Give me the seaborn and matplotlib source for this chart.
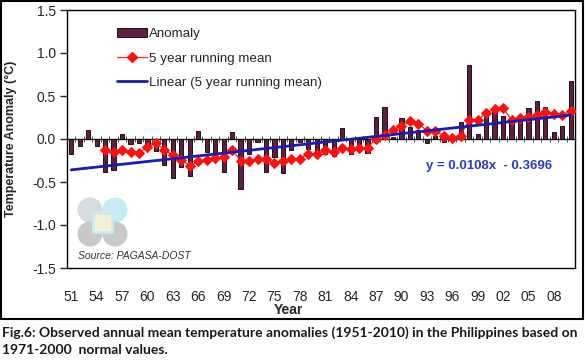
import numpy as np
import pandas as pd
import matplotlib
matplotlib.use('Agg')
import matplotlib.pyplot as plt
import seaborn as sns
from matplotlib.patches import Rectangle, Circle, Patch
from matplotlib.lines import Line2D
from matplotlib.ticker import FormatStrFormatter
from matplotlib.transforms import IdentityTransform

# annual anomalies 1951-2010 (deg C)
years = list(range(1951, 2011))
anomaly = [-0.18, -0.085, 0.10, -0.085, -0.38, -0.36, 0.06, -0.06, -0.05, -0.085,
           -0.14, -0.30, -0.45, -0.33, -0.43, 0.09, -0.15, -0.23, -0.38, 0.08,
           -0.58, -0.18, -0.04, -0.38, -0.21, -0.39, -0.13, -0.04, -0.12, -0.16,
           -0.17, -0.20, 0.13, -0.17, -0.12, -0.16, 0.26, 0.37, 0.02, 0.24,
           0.14, 0.10, -0.05, 0.03, -0.04, 0.05, 0.20, 0.86, 0.06, 0.30,
           0.32, 0.27, 0.19, 0.23, 0.36, 0.44, 0.37, 0.08, 0.15, 0.67]

# 5 year running mean (first four years empty)
running_mean = [np.nan, np.nan, np.nan, np.nan,
                -0.124, -0.155, -0.13, -0.155, -0.16, -0.093, -0.047, -0.124, -0.19, -0.24,
                -0.31, -0.26, -0.24, -0.22, -0.21, -0.124, -0.25, -0.26, -0.23, -0.23,
                -0.28, -0.25, -0.23, -0.23, -0.17, -0.17, -0.13, -0.155, -0.10, -0.116,
                -0.10, -0.10, 0.0, 0.05, 0.10, 0.155, 0.205, 0.18, 0.097, 0.09,
                0.04, 0.012, 0.04, 0.225, 0.225, 0.30, 0.35, 0.36, 0.225, 0.25,
                0.26, 0.28, 0.31, 0.295, 0.275, 0.33]

# linear trend of the running mean, as printed on the chart
slope = 0.0108
intercept = -0.3696

tick_years = years[::3]
tick_labels = [f"{y % 100:02d}" for y in tick_years]

df = pd.DataFrame({'year': years, 'anomaly': anomaly, 'mean5': running_mean})
df['pos'] = np.arange(len(df))
df['trend'] = slope * (df['pos'] + 1) + intercept

sns.set_style('white')
plt.rcParams['font.family'] = ['Liberation Sans', 'DejaVu Sans']
plt.rcParams['axes.unicode_minus'] = False

fig = plt.figure(figsize=(5.85, 3.61), dpi=100)
ax = fig.add_axes([67 / 585, 1 - 268 / 361, 508 / 585, 258 / 361])

bar_color = '#5e1f42'
sns.barplot(data=df, x='pos', y='anomaly', color=bar_color, saturation=1,
            width=0.5, edgecolor='black', linewidth=0.6, ax=ax, zorder=2)
sns.lineplot(data=df, x='pos', y='mean5', color='#d83030', linewidth=0.9,
             marker='D', markersize=5, markerfacecolor='#ff1010',
             markeredgecolor='#ff1010', ax=ax, zorder=3)
sns.lineplot(data=df, x='pos', y='trend', color='#1a1ab4', linewidth=2, ax=ax, zorder=4)

ax.set_xlim(-0.5, len(years) - 0.5)
ax.set_ylim(-1.5, 1.5)
ax.set_yticks([-1.5, -1.0, -0.5, 0.0, 0.5, 1.0, 1.5])
ax.yaxis.set_major_formatter(FormatStrFormatter('%.1f'))
ax.tick_params(axis='y', direction='out', length=5, width=1, labelsize=10, pad=3, left=True)
ax.set_xticks([years.index(y) for y in tick_years])
ax.set_xticklabels(tick_labels)
ax.tick_params(axis='x', length=0, labelsize=10, pad=16)
for s in ax.spines.values():
    s.set_color('black')
    s.set_linewidth(1)

# zero axis with tick marks between categories
zero_ax = ax.secondary_xaxis(0.5)
zero_ax.set_xticks(np.arange(-0.5, len(years), 1))
zero_ax.set_xticklabels([])
zero_ax.tick_params(direction='inout', length=5, width=0.6, color='#333333')
for side in ('top', 'bottom'):
    zero_ax.spines[side].set_color('#222222')
    zero_ax.spines[side].set_linewidth(1)

ax.set_xlabel('Year', fontsize=10, fontweight='bold')
ax.xaxis.set_label_coords(0.435, -0.135)
ax.set_ylabel('Temperature Anomaly (\u00b0C)', fontsize=9, fontweight='bold')
ax.yaxis.set_label_coords(-0.098, 0.5)

handles = [Patch(facecolor=bar_color, edgecolor='black', linewidth=0.6),
           Line2D([], [], color='#d83030', lw=0.9, marker='D', markersize=5,
                  markerfacecolor='#ff1010', markeredgecolor='#ff1010'),
           Line2D([], [], color='#1a1ab4', lw=2)]
ax.legend(handles, ['Anomaly', '5 year running mean', 'Linear (5 year running mean)'],
          loc='upper left', bbox_to_anchor=(0.098, 0.93), frameon=False,
          fontsize=9.6, borderpad=0, borderaxespad=0, handlelength=2.3,
          handletextpad=0.15, labelspacing=0.9)

ax.text(0.831, 0.395, 'y = 0.0108x  - 0.3696', transform=ax.transAxes,
        ha='center', va='center', fontsize=9.5, fontweight='bold', color='#2b3cc0')

# faint PAGASA logo and source note
H = 361
for (cx, cy, col) in [(90, 210, '#d6dde0'), (115, 210, '#c4ecf4'),
                      (90, 234, '#c9c9c9'), (115, 234, '#c9c9c9')]:
    ax.add_artist(Circle((cx, H - cy), 12.5, transform=IdentityTransform(),
                         facecolor=col, edgecolor='none', zorder=0.5))
ax.add_artist(Rectangle((93, H - 232), 19, 19, transform=IdentityTransform(),
                        facecolor='#f4f1d2', edgecolor='#c8ecf4', lw=2, zorder=0.6))
ax.text(78 / 585, 1 - 256 / 361, 'Source: PAGASA-DOST', transform=fig.transFigure,
        fontsize=7.5, style='italic', color='#333333', va='center', ha='left')

# frame around chart area and caption below
fig.add_artist(Rectangle((0.002, 1 - 319 / 361), 0.995, 319 / 361 - 0.004,
                         transform=fig.transFigure, fill=False, edgecolor='black', lw=1.5))
fig.text(0.004, 1 - 333 / 361,
         'Fig.6: Observed annual mean temperature anomalies (1951-2010) in the Philippines based on',
         fontsize=10, fontweight='bold', family=['Lato', 'DejaVu Sans'], color='#1a1a1a',
         va='center', ha='left')
fig.text(0.004, 1 - 350 / 361, '1971-2000  normal values.',
         fontsize=10, fontweight='bold', family=['Lato', 'DejaVu Sans'], color='#1a1a1a',
         va='center', ha='left')

fig.savefig('out.png', dpi=100)
